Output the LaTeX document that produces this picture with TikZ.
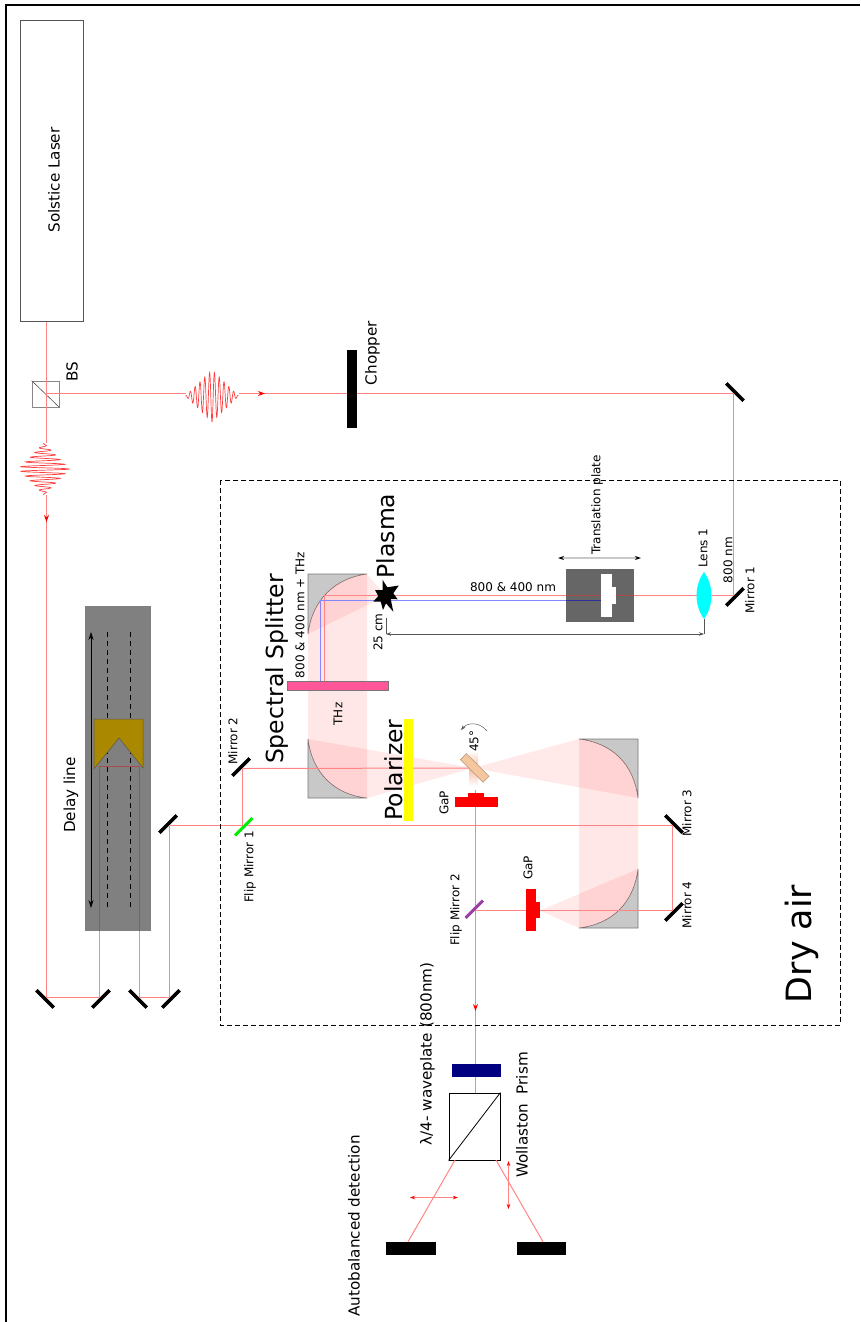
\documentclass[tikz,border=0pt]{standalone}
\usepackage{fontspec}
\setmainfont{DejaVu Sans}
\usepackage{xcolor}
\usetikzlibrary{arrows.meta}
\definecolor{ink}{HTML}{000000}
\definecolor{edge}{HTML}{555555}
\definecolor{laserr}{HTML}{FF0000}
\definecolor{beamR}{HTML}{FF8585}
\definecolor{beamD}{HTML}{A84C4C}
\definecolor{beamB}{HTML}{8585FF}
\definecolor{beamBd}{HTML}{30309A}
\definecolor{mirG}{HTML}{C8C8C8}
\definecolor{plateG}{HTML}{666666}
\definecolor{delayG}{HTML}{808080}
\definecolor{retro}{HTML}{AA8800}
\definecolor{splitP}{HTML}{FF5599}
\definecolor{polY}{HTML}{FFFF00}
\definecolor{cryst}{HTML}{F4C79F}
\definecolor{flipG}{HTML}{00EE00}
\definecolor{flipP}{HTML}{9B3FA5}
\definecolor{wave}{HTML}{000080}
\definecolor{lensC}{HTML}{00FFFF}
\tikzset{
  mirror/.style  ={fill=ink, inner sep=0pt, minimum width=24.5pt, minimum height=3.6pt, anchor=south},
  flipm/.style   ={mirror, fill=#1, minimum height=3pt},
  block/.style   ={fill=#1, inner sep=0pt},
  beam/.style    ={draw=beamR, line width=1pt},
  bbeam/.style   ={draw=beamB, line width=1pt},
  thz/.style     ={fill=laserr, opacity=.095},
  thzw/.style    ={fill=laserr, opacity=.085},
  para/.style    ={fill=mirG, draw=edge!80, line width=.6pt},
  redtip/.style  ={-{Stealth[length=7pt,width=5pt,laserr]}, draw=beamR, line width=.9pt},
  polar/.style   ={{Stealth[length=5pt,width=3.5pt,laserr]}-{Stealth[length=5pt,width=3.5pt,laserr]}, draw=beamR, line width=.8pt},
  dimar/.style   ={{Stealth[length=5pt,width=3.5pt]}-{Stealth[length=5pt,width=3.5pt]}, draw=edge, line width=.8pt},
  pulse/.style   ={draw=laserr, opacity=.75, line width=.7pt},
  lbl/.style     ={rotate=90, inner sep=0pt, font=\fontsize{12}{14}\selectfont},
  mid/.style     ={rotate=90, inner sep=0pt, font=\fontsize{15.2}{18}\selectfont},
  big/.style     ={rotate=90, inner sep=0pt, font=\fontsize{23.5}{28}\selectfont},
}
\begin{document}
\begin{tikzpicture}[x=1pt,y=-1pt]
  \useasboundingbox (0,0) rectangle (860,1322);
  \draw[line width=2pt] (5.5,1322)--(5.5,5.5)--(860,5.5);
  % --- laser and beam splitter ---
  \node[draw=edge, line width=1pt, minimum width=63pt, minimum height=300pt, inner sep=0pt](laser) at (51.5,171){};
  \node[draw=edge!70, line width=.7pt, minimum width=27pt, minimum height=26pt, inner sep=0pt](bs) at (45.5,394){};
  \draw[edge, line width=.6pt] (bs.north west)--(bs.south east);
  \coordinate (bsHit) at (46.5,393.5);
  % --- delay line ---
  \node[block=delayG, minimum width=66pt, minimum height=325pt](delay) at (118,768.5){};
  \foreach \x in {107.5,130.5}
     \draw[ink, dash pattern=on 5pt off 4pt, line width=1pt] (\x,632)--(\x,910);
  \draw[draw=ink, line width=.7pt, {Stealth[length=8pt,width=5pt]}-{Stealth[length=8pt,width=5pt]}] (91,632)--(91,908);
  \draw[fill=retro, draw=edge, line width=.5pt] (94,719)--(143,719)--(143,768)--(119,738)--(94,769)--cycle;
  % --- mirrors, the beam hits the south side ---
  \node[mirror,rotate=-45](mTop) at (733.5,393.5){};
  \node[mirror,rotate=225](mOne) at (733.5,595.5){};
  \node[mirror,rotate=135](mA) at (46.5,997.5){};
  \node[mirror,rotate=225](mB) at (99.5,997.5){};
  \node[mirror,rotate=135](mC) at (139.5,997.5){};
  \node[mirror,rotate=225](mD) at (169.5,997.5){};
  \node[mirror,rotate=45](mLeft) at (169.5,825.5){};
  \node[mirror,rotate=45](mTwo) at (242.5,768.5){};
  \node[mirror,rotate=-45](mThree) at (672.5,825.5){};
  \node[mirror,rotate=225](mFour) at (672.5,910.5){};
  % --- off-axis parabolic mirrors ---
  \draw[para] (308,574)--(367,574) .. controls (335,578) and (312,600) .. (308,634)--cycle;
  \draw[para] (308,798)--(367,798) .. controls (335,795) and (312,773) .. (308,739)--cycle;
  \draw[para] (638,739)--(579,739) .. controls (613,743) and (634,765) .. (638,798)--cycle;
  \draw[para] (638,928)--(579,928) .. controls (613,924) and (634,902) .. (638,869)--cycle;
  % --- THz beam ---
  \coordinate (plasmaC) at (386,596);
  \coordinate (focus) at (473,768);
  \coordinate (gapTip) at (540,910.5);
  \fill[thzw] (plasmaC)--(367,574) .. controls (335,578) and (312,600) .. (308,634)--cycle;
  \fill[thz] (367,574) .. controls (335,578) and (312,600) .. (308,634)--(308,739) .. controls (312,773) and (335,795) .. (367,798)--cycle;
  \fill[thzw] (focus)--(308,739) .. controls (312,773) and (335,795) .. (367,798)--cycle;
  \fill[thzw] (focus)--(579,739) .. controls (613,743) and (634,765) .. (638,798)--cycle;
  \fill[thz] (579,739) .. controls (613,743) and (634,765) .. (638,798)--(638,869) .. controls (634,902) and (613,924) .. (579,928)--cycle;
  \fill[thzw] (gapTip)--(579,928) .. controls (613,924) and (634,902) .. (638,869)--cycle;
  % --- translation plate ---
  \node[block=plateG, minimum width=68pt, minimum height=53pt](plate) at (600,595.5){};
  % --- main beam ---
  \coordinate (retA) at (99.5,766);
  \coordinate (retB) at (139.5,766);
  \coordinate (bendR) at (324,595.5);
  \coordinate (bendRb) at (324,681);
  \coordinate (bendB) at (320,600.5);
  \coordinate (bendBb) at (320,681);
  \coordinate (stageB) at (601,600.5);
  \coordinate (plateL) at (566,600.5);
  \coordinate (gapIn) at (475.5,790);
  \coordinate (prismIn) at (475.5,1093);
  \draw[beam] (laser.south -| bsHit)--(bsHit);
  \foreach \a/\b in {bsHit/mA.south,mA.south/mB.south,mB.south/retA,retB/mC.south,mC.south/mD.south,
                     mD.south/mLeft.south,mLeft.south/mThree.south,mThree.south/mFour.south,mFour.south/gapTip,
                     mTwo.south/focus,bsHit/mTop.south,mTop.south/mOne.south,mOne.south/bendR,bendR/bendRb,
                     gapIn/prismIn}
     \draw[beam](\a)--(\b);
  \draw[bbeam] (stageB)--(bendB)--(bendBb);
  \draw[beamBd, line width=1pt] (plateL)--(stageB);
  % inside the dark stages the beam looks darker
  \draw[beamD, line width=1pt] (99.5,931)--(retA)--(retB)--(139.5,931);
  \draw[beamD, line width=1pt] (566,595.5)--(634,595.5);
  \draw[beam] (mTwo.south)--(mTwo.south |- mLeft.south);
  \draw[beam] (475.5,910.5)--(gapTip);
  \draw[redtip] (46.5,508)--(46.5,522);
  \draw[redtip] (250,393.5)--(265,393.5);
  \draw[redtip] (475.5,1000)--(475.5,1011);
  % --- white pulses on the two arms ---
  \fill[white] (18,443) rectangle (70,495);
  \fill[white] (186,369) rectangle (239,423);
  \draw[pulse] plot[domain=-1:1,samples=240,smooth] ({212+26.5*\x},{396+26*(1-abs(\x))*sin(360*5.5*\x+90)});
  \draw[pulse] plot[domain=-1:1,samples=240,smooth] ({44+25.5*(1-abs(\x))*sin(360*5.5*\x+90)},{469+26*\x});
  % --- plate inner cut-out, lens ---
  \fill[white] (601,574) rectangle (612,617);
  \fill[white] (612,587) rectangle (616,604);
  \fill[lensC] (704,572) .. controls (694,586) and (694,605) .. (704,619) .. controls (714,605) and (714,586) .. (704,572)--cycle;
  \coordinate (lensB) at (704,619);
  % --- optics in the beam ---
  \node[block=splitP, draw=edge!80, line width=.6pt, minimum width=101pt, minimum height=9.5pt](split) at (338,685.7){};
  \node[block=polY, minimum width=9.5pt, minimum height=102pt](polariz) at (408.5,770){};
  \shade[top color=white, bottom color=cryst!85!red, opacity=.8] (469,751) rectangle (478,768);
  \shade[bottom color=white, top color=cryst!85!red, opacity=.8] (469,768) rectangle (478,786);
  \node[fill=cryst, draw=cryst!75!black, line width=.5pt, rotate=-45, inner sep=0pt, minimum width=32pt, minimum height=8.5pt](crystal) at (474.7,768){};
  \node[block=laserr, minimum width=43pt, minimum height=10pt](gapA) at (476.5,802){};
  \node[block=laserr, minimum width=16pt, minimum height=4pt](gapAt) at (476,795){};
  \node[block=laserr, minimum width=10pt, minimum height=42pt](gapB) at (531,910){};
  \node[block=laserr, minimum width=4pt, minimum height=16pt](gapBt) at (538,910){};
  \node[flipm=flipG, rotate=225](flipA) at (242.5,825.5){};
  \node[flipm=flipP, rotate=45](flipB) at (475.5,910.5){};
  \node[block=wave, minimum width=49pt, minimum height=13pt](wplate) at (476.5,1070.5){};
  \node[draw=ink, fill=white, line width=.9pt, minimum width=51pt, minimum height=67pt, inner sep=0pt](prism) at (474.5,1126.5){};
  \draw[ink, line width=.8pt] (prism.south west)--(prism.north east);
  % --- detection ---
  \node[block=ink, minimum width=50pt, minimum height=13pt](detA) at (411,1248.5){};
  \node[block=ink, minimum width=49pt, minimum height=13pt](detB) at (541.5,1248.5){};
  \draw[beam] (455,1160)--(detA.north -| 408,0);
  \draw[beam] (496,1160)--(detB.north -| 543,0);
  \draw[polar] (410,1197.5)--(458,1197.5);
  \draw[polar] (508.5,1161)--(508.5,1209);
  % --- plasma spark ---
  \fill[ink] (382.7,580)--(387.3,587.3)--(398.8,585.5)--(393.3,593.3)--(397.7,599.3)--(390.7,599)--(393.3,611.7)--(386,603.3)--(383,610)--(380.7,601.7)--(373.3,601.7)--(378.3,596)--(375,590)--(382.7,590)--cycle;
  % --- chopper ---
  \node[block=ink, minimum width=10pt, minimum height=78pt](chopper) at (352,389){};
  % --- dimensions and motion arrows ---
  \coordinate (dimL) at (386,634);
  \coordinate (dimR) at (704,634);
  \draw[edge, line width=.7pt] (386,618)--(dimL);
  \draw[edge, line width=.7pt] (lensB)--(dimR);
  \draw[dimar, line width=.7pt] (dimL)--(dimR);
  \draw[draw=mirG, line width=1.3pt, {Stealth[length=6pt,width=4pt,black]}-{Stealth[length=6pt,width=4pt,black]}] (558,558)--(641,558);
  \draw[{Stealth[length=5pt,width=3.5pt]}-, draw=edge, line width=.5pt] (461,730) .. controls (468,722) and (480,722) .. (487,731);
  % --- dry air enclosure ---
  \draw[ink, dash pattern=on 5pt off 3pt, line width=.9pt] (220,480) rectangle (840,1025);
  % --- labels ---
  \node[mid](tLaser) at (54,180){Solstice Laser};
  \node[mid](tBs) at (72,372){BS};
  \node[mid](tChop) at (372.5,353){Chopper};
  \node[mid](tDelay) at (71,795){Delay line};
  \node[big](tPlasma) at (386,536){Plasma};
  \node[big](tSplit) at (277,669){Spectral Splitter};
  \node[big](tPol) at (394,770){Polarizer};
  \node[rotate=90, inner sep=0pt, font=\fontsize{34.8}{40}\selectfont](tAir) at (802,944){Dry air};
  \node[lbl](tMix) at (300,615){800 \& 400 nm + THz};
  \node[lbl, rotate=-90](tLine) at (513,587){800 \& 400 nm};
  \node[lbl](t25) at (378,632){25 cm};
  \node[lbl](tThz) at (338,714){THz};
  \node[lbl](tPlate) at (597,505){Translation plate};
  \node[lbl](tLens) at (703,548){Lens 1};
  \node[lbl](t800) at (728,560){800 nm};
  \node[lbl](tM1) at (750,590){Mirror 1};
  \node[lbl](tM2) at (233,741){Mirror 2};
  \node[lbl](tM3) at (687,813){Mirror 3};
  \node[lbl](tM4) at (687,905){Mirror 4};
  \node[lbl](tF1) at (250,867){Flip Mirror 1};
  \node[lbl](tF2) at (456,910){Flip Mirror 2};
  \node[lbl](tAng) at (474,741){45°};
  \node[lbl](tG1) at (444,803){GaP};
  \node[lbl](tG2) at (528,868){GaP};
  \node[mid](tWave) at (427.5,1054){λ/4- waveplate (800nm)};
  \node[mid](tWoll) at (522,1115){Wollaston\ \ Prism};
  \node[mid](tAuto) at (354,1226){Autobalanced detection};
\end{tikzpicture}
\end{document}
